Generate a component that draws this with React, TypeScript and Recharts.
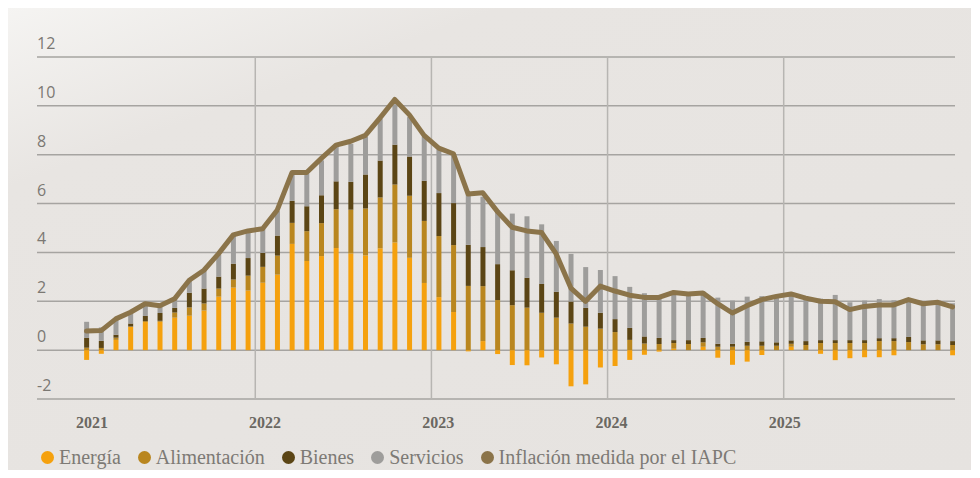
import {
  Bar,
  CartesianGrid,
  ComposedChart,
  Line,
  ReferenceLine,
  XAxis,
  YAxis,
} from "recharts";

// Contribuciones mensuales (pp), enero 2021 - diciembre 2025
const years = ["2021", "2022", "2023", "2024", "2025"];

const energia = [
  -0.4, -0.15, 0.42, 0.95, 1.15, 1.16, 1.33, 1.41, 1.62, 2.19, 2.56, 2.44,
  2.76, 3.09, 4.35, 3.65, 3.85, 4.18, 3.96, 3.88, 4.17, 4.41, 3.78, 2.75,
  2.17, 1.56, -0.05, 0.37, -0.16, -0.61, -0.62, -0.3, -0.58, -1.48, -1.4, -0.71,
  -0.65, -0.4, -0.19, -0.06, 0.06, 0, 0.14, -0.31, -0.6, -0.47, -0.2, 0,
  0.14, 0, -0.15, -0.41, -0.33, -0.29, -0.29, -0.21, 0, 0, 0, -0.21,
];

const alimentacion = [
  0.1, 0.09, 0.09, 0.02, 0.04, 0.04, 0.21, 0.34, 0.29, 0.33, 0.33, 0.61,
  0.65, 0.78, 0.86, 1.22, 1.35, 1.59, 1.79, 1.92, 2.08, 2.37, 2.54, 2.54,
  2.5, 2.74, 2.63, 2.25, 2.05, 1.84, 1.74, 1.53, 1.33, 1.09, 0.96, 0.88,
  0.74, 0.42, 0.27, 0.25, 0.23, 0.25, 0.18, 0.14, 0.14, 0.18, 0.18, 0.18,
  0.12, 0.21, 0.29, 0.29, 0.29, 0.29, 0.37, 0.37, 0.33, 0.24, 0.24, 0.21,
];

const bienes = [
  0.4, 0.29, 0.12, 0.12, 0.21, 0.32, 0.19, 0.6, 0.61, 0.49, 0.65, 0.72,
  0.57, 0.82, 0.9, 1.02, 1.14, 1.14, 1.14, 1.39, 1.51, 1.63, 1.6, 1.64,
  1.76, 1.72, 1.68, 1.6, 1.47, 1.43, 1.22, 1.18, 1.06, 0.9, 0.77, 0.65,
  0.53, 0.49, 0.29, 0.25, 0.12, 0.16, 0.18, 0.12, 0.12, 0.16, 0.18, 0.14,
  0.14, 0.16, 0.12, 0.12, 0.12, 0.12, 0.12, 0.12, 0.21, 0.16, 0.16, 0.16,
];

const servicios = [
  0.66, 0.55, 0.62, 0.46, 0.5, 0.3, 0.36, 0.5, 0.75, 0.9, 1.18, 1.1,
  0.98, 1.0, 1.13, 1.34, 1.43, 1.42, 1.56, 1.55, 1.7, 1.66, 1.62, 1.81,
  1.79, 2.03, 2.05, 2.06, 2.21, 2.32, 2.52, 2.44, 2.08, 1.95, 1.67, 1.75,
  1.76, 1.68, 1.77, 1.64, 2.01, 1.93, 1.89, 1.89, 1.77, 1.85, 1.85, 1.9,
  1.92, 1.75, 1.7, 1.85, 1.55, 1.62, 1.6, 1.55, 1.59, 1.58, 1.62, 1.55,
];

const iapc = [
  0.78, 0.8, 1.28, 1.55, 1.9, 1.82, 2.1, 2.86, 3.27, 3.95, 4.72, 4.88,
  4.97, 5.74, 7.27, 7.27, 7.85, 8.39, 8.55, 8.79, 9.51, 10.26, 9.63, 8.79,
  8.27, 8.04, 6.39, 6.44, 5.67, 5.03, 4.88, 4.82, 3.94, 2.54, 2.0, 2.62,
  2.42, 2.25, 2.16, 2.16, 2.36, 2.3, 2.34, 1.9, 1.52, 1.82, 2.07, 2.2,
  2.3, 2.13, 2.0, 1.98, 1.66, 1.79, 1.85, 1.85, 2.07, 1.9, 1.96, 1.77,
];

const yTicks = [-2, 0, 2, 4, 6, 8, 10, 12];

const data = energia.map((v, i) => ({
  mes: i,
  energia: v,
  alimentacion: alimentacion[i],
  bienes: bienes[i],
  servicios: servicios[i],
  iapc: iapc[i],
}));

const barras = [
  { key: "energia", name: "Energía", color: "#f5a10e" },
  { key: "alimentacion", name: "Alimentación", color: "#b9861f" },
  { key: "bienes", name: "Bienes", color: "#5b4515" },
  { key: "servicios", name: "Servicios", color: "#9e9d9b" },
];
const lineaColor = "#8b744a";

const leyenda = [
  ...barras.map((b) => ({ name: b.name, color: b.color })),
  { name: "Inflación medida por el IAPC", color: lineaColor },
];

// year labels sit slightly tighter than the month scale
const yearTicks = years.map((_, i) => 0.37 + i * 11.8);
const yearLines = [11.5, 23.5, 35.5, 47.5];

const YTick = (props: any) => {
  const { y, payload } = props;
  return (
    <text
      x={37}
      y={y - 8}
      textAnchor="start"
      fontFamily="Open Sans"
      fontSize={16}
      fill="#7b7873"
    >
      {payload.value}
    </text>
  );
};

const XTick = (props: any) => {
  const { x, payload, index } = props;
  return (
    <text
      x={x}
      y={428}
      textAnchor="middle"
      fontFamily="Liberation Serif"
      fontWeight="bold"
      fontSize={16}
      fill="#6b6862"
    >
      {years[index] ?? payload.value}
    </text>
  );
};

function Leyenda() {
  return (
    <div
      style={{
        position: "absolute",
        left: 41,
        top: 446,
        display: "flex",
        alignItems: "center",
        fontFamily: "Liberation Serif",
        fontSize: 20,
        lineHeight: "22px",
        color: "#7d7a75",
        whiteSpace: "nowrap",
      }}
    >
      {leyenda.map((it) => (
        <span
          key={it.name}
          style={{ display: "flex", alignItems: "center", marginRight: 17 }}
        >
          <span
            style={{
              width: 13,
              height: 13,
              borderRadius: "50%",
              background: it.color,
              marginRight: 5,
            }}
          />
          {it.name}
        </span>
      ))}
    </div>
  );
}

export default function App() {
  return (
    <div
      style={{
        position: "relative",
        margin: -8,
        width: 980,
        height: 478,
        background: "#ffffff",
      }}
    >
      <div
        style={{
          position: "absolute",
          left: 4,
          top: 8,
          width: 967,
          height: 469,
          background:
            "linear-gradient(160deg, #f5f4f2 0%, #e8e5e2 22%, #e6e3e0 100%)",
        }}
      />
      <div style={{ position: "absolute", left: 0, top: 0 }}>
        <ComposedChart
          width={980}
          height={478}
          data={data}
          stackOffset="sign"
          margin={{ top: 57, right: 25, left: 36, bottom: 49 }}
        >
          <CartesianGrid
            vertical={false}
            stroke="#a6a4a1"
            strokeWidth={1.5}
          />
          <XAxis
            type="number"
            dataKey="mes"
            domain={[-3.37, 59.17]}
            allowDataOverflow
            ticks={yearTicks}
            interval={0}
            axisLine={false}
            tickLine={false}
            height={30}
            tick={<XTick />}
          />
          <YAxis
            width={1}
            domain={[-2, 12]}
            ticks={yTicks}
            interval={0}
            axisLine={false}
            tickLine={false}
            tick={<YTick />}
          />
          {yearLines.map((x) => (
            <ReferenceLine
              key={x}
              x={x}
              stroke="#b7b5b2"
              strokeWidth={1.5}
            />
          ))}
          {barras.map((b) => (
            <Bar
              key={b.key}
              dataKey={b.key}
              name={b.name}
              stackId="a"
              fill={b.color}
              barSize={5}
              isAnimationActive={false}
            />
          ))}
          <Line
            type="linear"
            dataKey="iapc"
            name="Inflación medida por el IAPC"
            stroke={lineaColor}
            strokeWidth={5}
            strokeLinejoin="round"
            strokeLinecap="round"
            dot={false}
            activeDot={false}
            isAnimationActive={false}
          />
        </ComposedChart>
      </div>
      <Leyenda />
    </div>
  );
}
